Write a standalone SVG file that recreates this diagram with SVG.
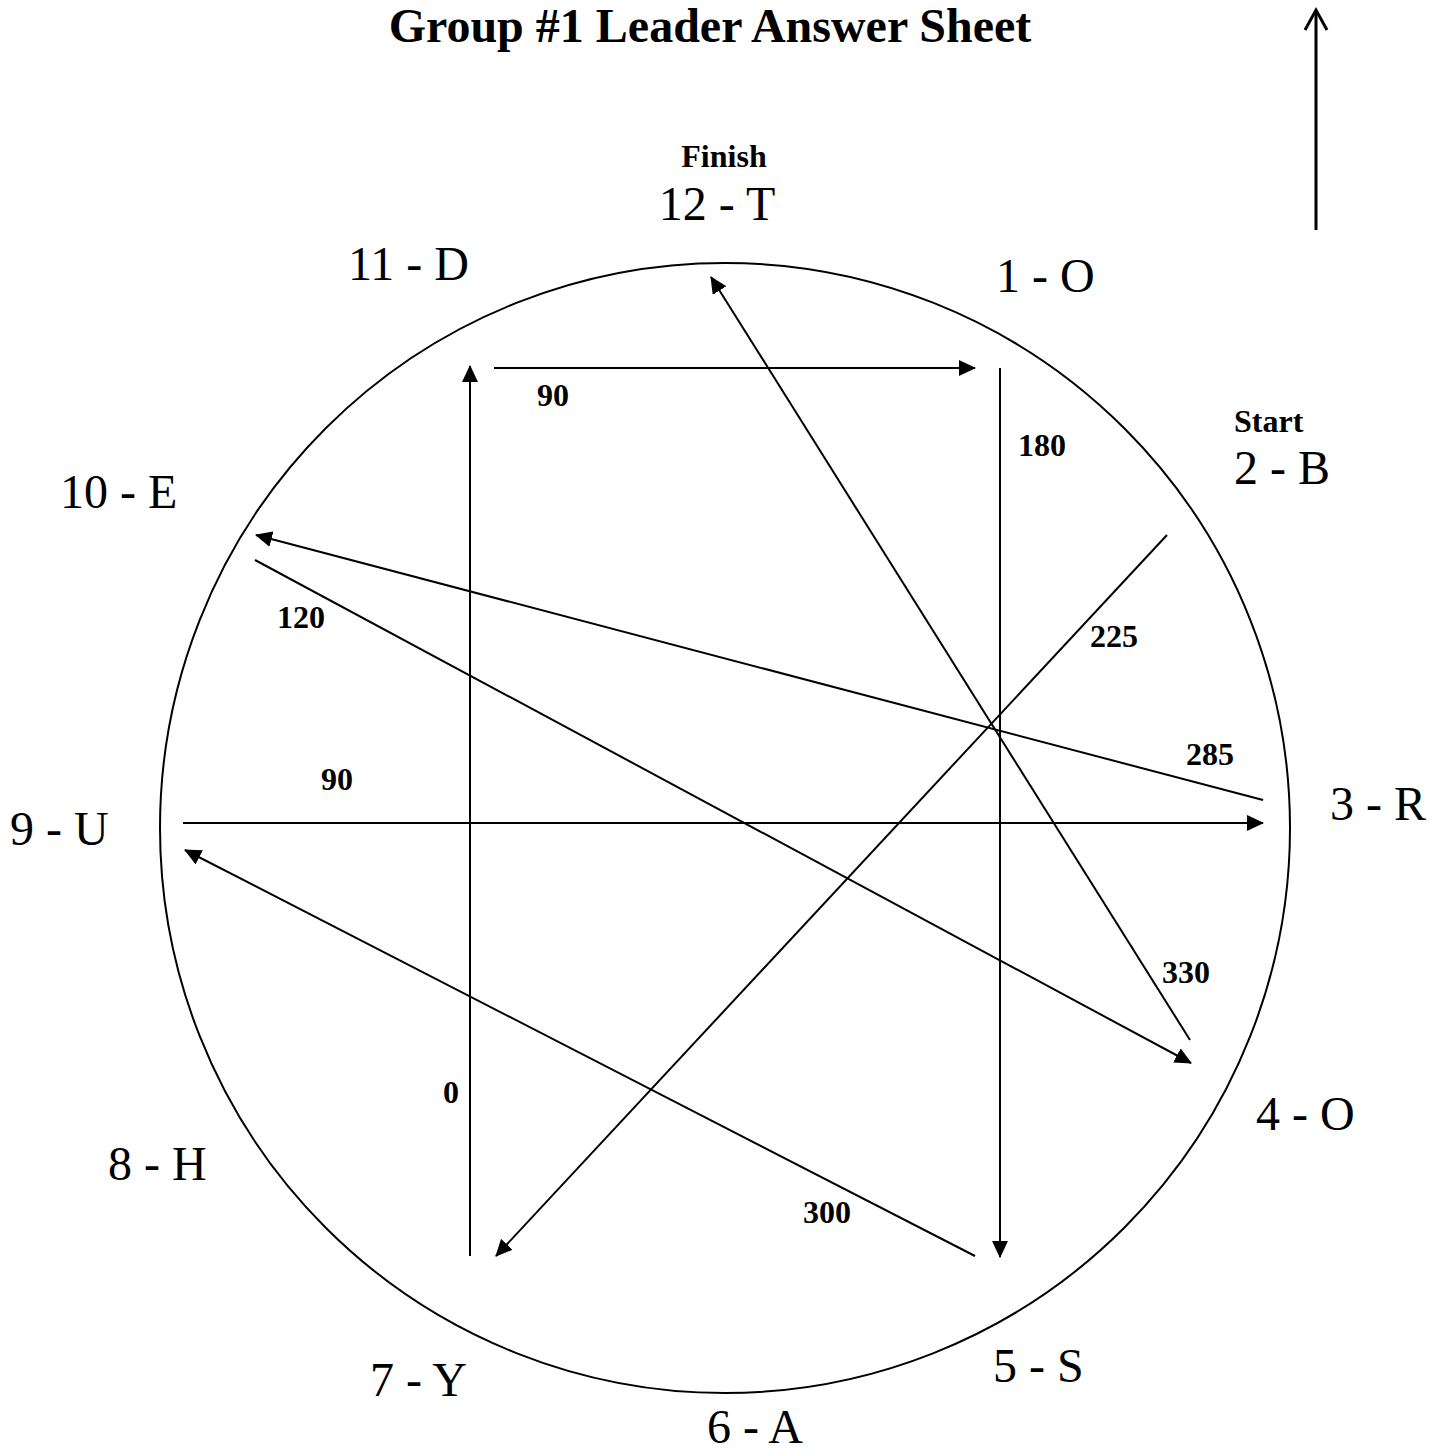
<svg xmlns="http://www.w3.org/2000/svg" width="1442" height="1452" viewBox="0 0 1442 1452">
<defs>
<marker id="ah" markerUnits="userSpaceOnUse" markerWidth="18" markerHeight="16" refX="16" refY="8" orient="auto">
<path d="M0,0 L17,8 L0,16 Z" fill="#000"/>
</marker>
<marker id="open" markerUnits="userSpaceOnUse" markerWidth="26" markerHeight="26" refX="21" refY="13" orient="auto" overflow="visible">
<path d="M1,2 L21,13 L1,24" fill="none" stroke="#000" stroke-width="3"/>
</marker>
<style>
.lbl{font-family:"Liberation Serif",serif;font-size:48px;fill:#000}
.num{font-family:"Liberation Serif",serif;font-size:32px;font-weight:bold;fill:#000}
.ttl{font-family:"Liberation Serif",serif;font-size:48px;font-weight:bold;fill:#000}
.c{stroke:#000;stroke-width:2;fill:none;marker-end:url(#ah)}
.p{stroke:#000;stroke-width:2;fill:none}
</style>
</defs>
<rect width="1442" height="1452" fill="#fff"/>
<text class="ttl" x="710" y="42" text-anchor="middle">Group #1 Leader Answer Sheet</text>
<g id="north"><line x1="1316" y1="230" x2="1316" y2="10" stroke="#000" stroke-width="3" marker-end="url(#open)"/></g>
<circle cx="725" cy="828" r="565" class="p"/>
<g id="connectors">
<line class="c" x1="494" y1="368" x2="975" y2="368"/>
<line class="c" x1="1000" y1="368" x2="1000" y2="1257"/>
<line class="c" x1="975" y1="1256" x2="185" y2="850"/>
<line class="c" x1="470" y1="1256" x2="470" y2="366"/>
<line class="c" x1="1167" y1="535" x2="496" y2="1256"/>
<line class="c" x1="1263" y1="800" x2="256" y2="535"/>
<line class="c" x1="255" y1="560" x2="1191" y2="1063"/>
<line class="c" x1="183" y1="823" x2="1263" y2="823"/>
<line class="c" x1="1190" y1="1040" x2="711" y2="277"/>
</g>
<g id="edge-labels">
<text class="num" x="537" y="406">90</text>
<text class="num" x="1018" y="456">180</text>
<text class="num" x="1090" y="647">225</text>
<text class="num" x="277" y="628">120</text>
<text class="num" x="1186" y="765">285</text>
<text class="num" x="321" y="790">90</text>
<text class="num" x="1162" y="983">330</text>
<text class="num" x="443" y="1103">0</text>
<text class="num" x="803" y="1223">300</text>
</g>
<g id="n12"><text class="num" x="724" y="167" text-anchor="middle">Finish</text><text class="lbl" x="717" y="220" text-anchor="middle">12 - T</text></g>
<g id="n11"><text class="lbl" x="348" y="280">11 - D</text></g>
<g id="n1"><text class="lbl" x="996" y="292">1 - O</text></g>
<g id="n2"><text class="num" x="1234" y="432">Start</text><text class="lbl" x="1234" y="484">2 - B</text></g>
<g id="n10"><text class="lbl" x="60" y="508">10 - E</text></g>
<g id="n3"><text class="lbl" x="1330" y="820">3 - R</text></g>
<g id="n9"><text class="lbl" x="10" y="845">9 - U</text></g>
<g id="n4"><text class="lbl" x="1256" y="1130">4 - O</text></g>
<g id="n8"><text class="lbl" x="108" y="1180">8 - H</text></g>
<g id="n5"><text class="lbl" x="993" y="1382">5 - S</text></g>
<g id="n7"><text class="lbl" x="370" y="1396">7 - Y</text></g>
<g id="n6"><text class="lbl" x="707" y="1443">6 - A</text></g>
</svg>
